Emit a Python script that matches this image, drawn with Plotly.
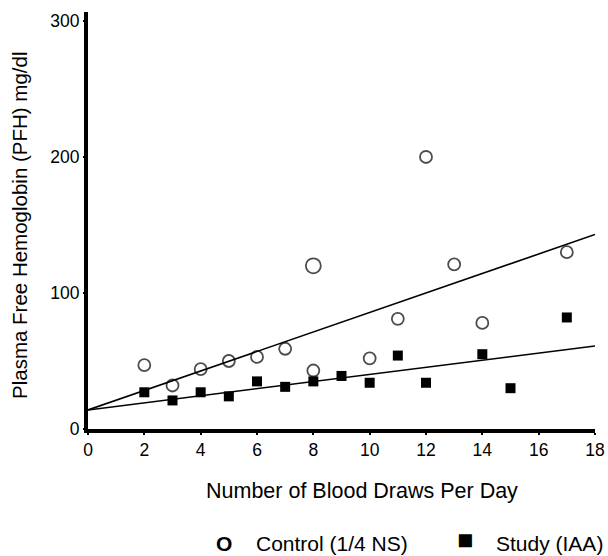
import plotly.graph_objects as go

# Control (1/4 NS) – open circles
control_x = [2, 3, 4, 5, 6, 7, 8, 8, 10, 11, 12, 13, 14, 17]
control_y = [47, 32, 44, 50, 53, 59, 120, 43, 52, 81, 200, 121, 78, 130]
control_size = [12, 12, 12, 12, 12, 12, 15, 12, 12, 12, 12, 12, 12, 12]

# Study (IAA) – filled squares
study_x = [2, 3, 4, 5, 6, 7, 8, 9, 10, 11, 12, 14, 15, 17]
study_y = [27, 21, 27, 24, 35, 31, 35, 39, 34, 54, 34, 55, 30, 82]

# Fitted lines
fit_x = [0, 18]
control_fit = [14, 143]
study_fit = [14, 61]

x_ticks = [0, 2, 4, 6, 8, 10, 12, 14, 16, 18]
y_ticks = [0, 100, 200, 300]

font = "Liberation Sans, Arial, sans-serif"
W, H = 608, 556
l, r, t, b = 88, 13, 12, 127

fig = go.Figure()
fig.add_trace(go.Scatter(x=fit_x, y=control_fit, mode="lines",
                         line=dict(color="black", width=1.6), showlegend=False, cliponaxis=False))
fig.add_trace(go.Scatter(x=fit_x, y=study_fit, mode="lines",
                         line=dict(color="black", width=1.6), showlegend=False, cliponaxis=False))
fig.add_trace(go.Scatter(x=control_x, y=control_y, mode="markers",
                         marker=dict(symbol="circle-open", size=control_size, color="black",
                                     line=dict(width=1.8, color="black")),
                         name="Control (1/4 NS)", showlegend=False, cliponaxis=False))
fig.add_trace(go.Scatter(x=study_x, y=study_y, mode="markers",
                         marker=dict(symbol="square", size=10, color="black"),
                         name="Study (IAA)", showlegend=False, cliponaxis=False))

fig.update_xaxes(range=[0, 18], tickvals=x_ticks, showgrid=False, zeroline=False,
                 showline=True, linewidth=4, linecolor="black", automargin=False,
                 ticks="outside", ticklen=2, tickwidth=2, tickcolor="black",
                 tickfont=dict(family=font, size=17.5, color="black"))
fig.update_yaxes(range=[0, 306.6], tickvals=y_ticks, showgrid=False, zeroline=False,
                 showline=True, linewidth=4, linecolor="black", automargin=False,
                 ticks="outside", ticklen=1, tickwidth=2, tickcolor="black",
                 tickfont=dict(family=font, size=17.5, color="black"))

fig.update_layout(
    width=W, height=H,
    margin=dict(l=l, r=r, t=t, b=b, autoexpand=False),
    plot_bgcolor="white", paper_bgcolor="white",
    showlegend=False,
)

pw, ph = W - l - r, H - t - b
def px(x): return (x - l) / pw
def py(y): return (H - b - y) / ph

def label(text, x, y, size, xanchor="center", angle=0):
    fig.add_annotation(text=text, x=px(x), y=py(y), xref="paper", yref="paper",
                       xanchor=xanchor, yanchor="middle", showarrow=False,
                       textangle=angle, font=dict(family=font, size=size, color="black"))

label("Plasma Free Hemoglobin (PFH) mg/dl", 20, 226, 20.5, angle=-90)
label("Number of Blood Draws Per Day", 362, 491, 21.5)
label("<b>O</b>", 224, 543, 21)
label("Control (1/4 NS)", 254, 543, 21, xanchor="left")
label("■", 465, 540, 27)
label("Study (IAA)", 494, 543, 21, xanchor="left")

fig.write_html("out.html", config={"displayModeBar": False},
               post_script="document.body.style.margin='0';document.body.style.overflow='hidden';")
